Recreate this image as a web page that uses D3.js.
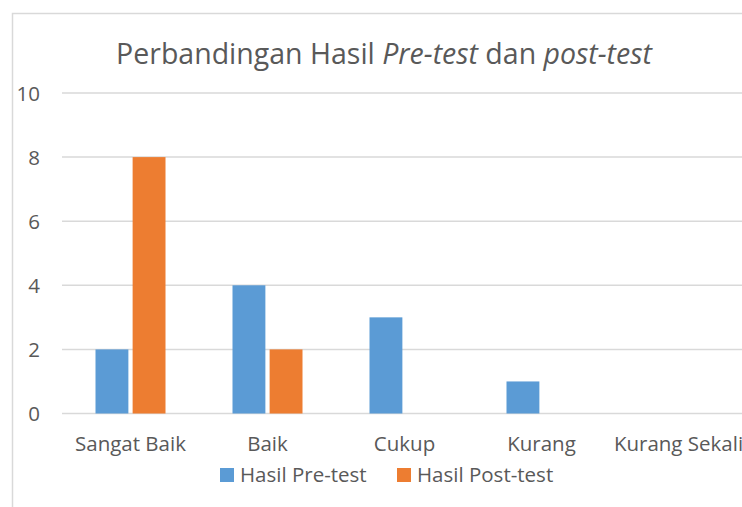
<!DOCTYPE html>
<html>
<head>
<meta charset="utf-8">
<script src="https://cdn.jsdelivr.net/npm/d3@7"></script>
<style>
  body { margin: 0; background: #fff; }
  svg { display: block; font-family: "Open Sans", sans-serif; }
</style>
</head>
<body>
<div id="chart"></div>
<script>
// data
var categories = ["Sangat Baik", "Baik", "Cukup", "Kurang", "Kurang Sekali"];
var seriesNames = ["Hasil Pre-test", "Hasil Post-test"];
var preTest = [2, 4, 3, 1, 0];
var postTest = [8, 2, 0, 0, 0];
var yTicks = [0, 2, 4, 6, 8, 10];
var colors = ["#5b9bd5", "#ed7d31"];

var W = 742, H = 507;
var svg = d3.select("#chart").append("svg").attr("width", W).attr("height", H);

// chart frame (runs off the right and bottom edge like the crop)
svg.append("rect")
  .attr("x", 12.5).attr("y", 13.5)
  .attr("width", W + 20).attr("height", H + 20)
  .attr("fill", "#fff").attr("stroke", "#d9d9d9").attr("stroke-width", 1.5);

var x0 = d3.scaleBand().domain(categories).range([62, 747]);
var x1 = d3.scaleBand().domain(seriesNames).range([0, 70]).paddingInner(8 / 70);
var y = d3.scaleLinear().domain([0, 10]).range([413.5, 93]);

// gridlines
svg.append("g").selectAll("line")
  .data(yTicks).enter().append("line")
  .attr("x1", 62).attr("x2", W)
  .attr("y1", function(d){ return y(d); })
  .attr("y2", function(d){ return y(d); })
  .attr("stroke", "#d9d9d9").attr("stroke-width", 1.5);

// y labels
svg.append("g").selectAll("text")
  .data(yTicks).enter().append("text")
  .attr("x", 40).attr("y", function(d){ return y(d) + 7.5; })
  .attr("text-anchor", "end")
  .attr("font-size", 20.5).attr("fill", "#595959")
  .text(function(d){ return d; });

// bars
var table = categories.map(function(c, i){ return [preTest[i], postTest[i]]; });
var groups = svg.append("g").selectAll("g")
  .data(table).enter().append("g")
  .attr("transform", function(d, i){ return "translate(" + (x0(categories[i]) + x0.bandwidth() / 2 - 35) + ",0)"; });
groups.selectAll("rect")
  .data(function(d){ return d; }).enter().append("rect")
  .attr("x", function(d, j){ return x1(seriesNames[j]); })
  .attr("width", x1.bandwidth())
  .attr("y", function(d){ return y(d); })
  .attr("height", function(d){ return y(0) - y(d); })
  .attr("fill", function(d, j){ return colors[j]; });

// category labels
svg.append("g").selectAll("text")
  .data(categories).enter().append("text")
  .attr("x", function(d){ return x0(d) + x0.bandwidth() / 2; })
  .attr("y", 451)
  .attr("text-anchor", "middle")
  .attr("font-size", 20.5).attr("fill", "#595959")
  .text(function(d){ return d; });

// title
var title = svg.append("text")
  .attr("x", 384).attr("y", 64)
  .attr("text-anchor", "middle")
  .attr("font-size", 28.5).attr("fill", "#595959");
title.append("tspan").text("Perbandingan Hasil ");
title.append("tspan").attr("font-style", "italic").text("Pre-test");
title.append("tspan").text(" dan ");
title.append("tspan").attr("font-style", "italic").text("post-test");

// legend
var legendX = [220, 397];
var leg = svg.append("g").selectAll("g")
  .data(seriesNames).enter().append("g")
  .attr("transform", function(d, i){ return "translate(" + legendX[i] + ",468)"; });
leg.append("rect").attr("width", 14).attr("height", 14)
  .attr("fill", function(d, i){ return colors[i]; });
leg.append("text").attr("x", 20).attr("y", 14)
  .attr("font-size", 20.5).attr("fill", "#595959")
  .text(function(d){ return d; });
</script>
</body>
</html>
